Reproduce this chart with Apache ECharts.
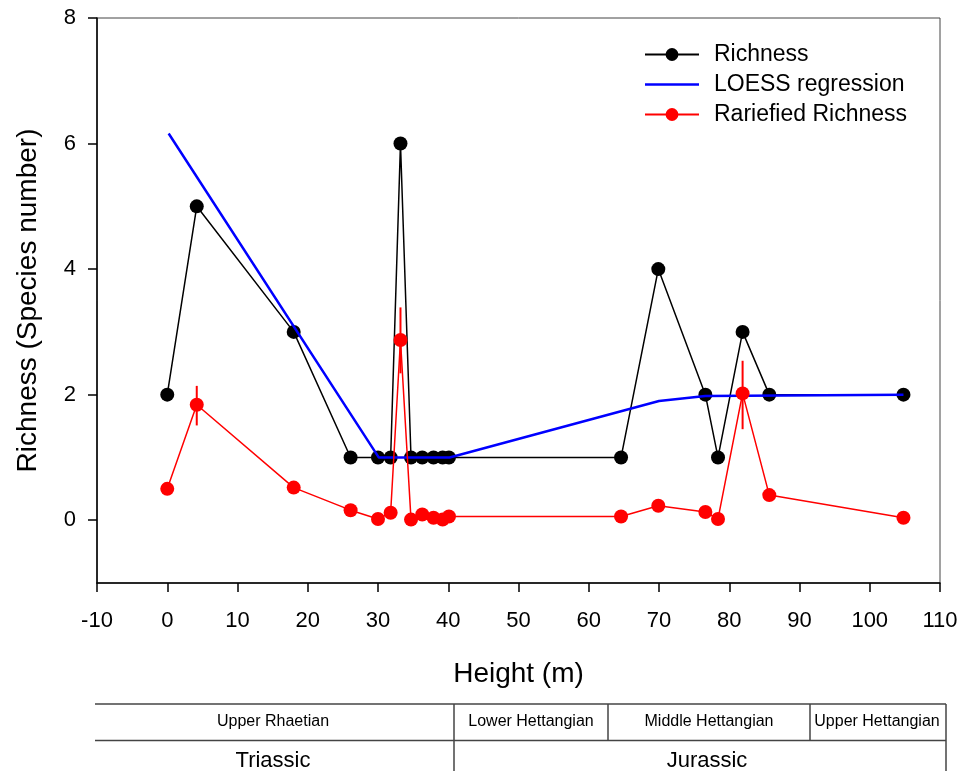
<!DOCTYPE html>
<html>
<head>
<meta charset="utf-8">
<script src="https://cdn.jsdelivr.net/npm/echarts@6/dist/echarts.min.js"></script>
<style>
html,body{margin:0;padding:0;background:#fff;}
#chart{width:967px;height:771px;}
</style>
</head>
<body>
<div id="chart"></div>
<script>
// ---- data ----
const heights = [0, 4.2, 18.0, 26.1, 30.0, 31.8, 33.2, 34.7, 36.3, 37.9, 39.2, 40.1, 64.6, 69.9, 76.6, 78.4, 81.9, 85.7, 104.8];
const richness = [2, 5, 3, 1, 1, 1, 6, 1, 1, 1, 1, 1, 1, 4, 2, 1, 3, 2, 2];
const rarefied = [0.50, 1.84, 0.52, 0.16, 0.02, 0.12, 2.87, 0.01, 0.09, 0.04, 0.01, 0.06, 0.06, 0.23, 0.13, 0.02, 2.02, 0.40, 0.04];
const loessX = [0.2, 30.1, 40.2, 70.0, 76.6, 104.8];
const loessY = [6.16, 1.0, 1.0, 1.90, 1.98, 2.0];
const errX = [4.2, 33.2, 81.9];
const errLow = [1.51, 2.34, 1.45];
const errHigh = [2.14, 3.39, 2.54];
const xTicks = [-10, 0, 10, 20, 30, 40, 50, 60, 70, 80, 90, 100, 110];
const yTicks = [0, 2, 4, 6, 8];
const stages = ['Upper Rhaetian', 'Lower Hettangian', 'Middle Hettangian', 'Upper Hettangian'];
const periods = ['Triassic', 'Jurassic'];

const FONT = 'Liberation Sans, Arial, sans-serif';
const chart = echarts.init(document.getElementById('chart'), null, {renderer: 'canvas'});

const zip = (a, b) => a.map((v, i) => [v, b[i]]);

// table layout (decoration)
const stageCenters = [273, 531, 709, 877];
const periodCenters = [273, 707];
const tableLines = [
  [95, 704, 946, 704], [95, 740.5, 946, 740.5],
  [454, 704, 454, 771], [608, 704, 608, 740.5], [810, 704, 810, 740.5], [946, 704, 946, 771]
];
const graphics = [];
tableLines.forEach(l => graphics.push({
  type: 'line', shape: {x1: l[0], y1: l[1], x2: l[2], y2: l[3]},
  style: {stroke: '#444', lineWidth: 1.5}, silent: true
}));
stages.forEach((s, i) => graphics.push({
  type: 'text', x: stageCenters[i], y: 722,
  style: {text: s, font: '16px ' + FONT, fill: '#000', align: 'center', verticalAlign: 'middle'}
}));
periods.forEach((s, i) => graphics.push({
  type: 'text', x: periodCenters[i], y: 761,
  style: {text: s, font: '22px ' + FONT, fill: '#000', align: 'center', verticalAlign: 'middle'}
}));

const option = {
  animation: false,
  backgroundColor: '#fff',
  textStyle: {fontFamily: FONT},
  grid: {left: 97, top: 18, width: 843, height: 565, show: true, borderColor: '#444', borderWidth: 1, containLabel: false},
  legend: {
    data: [
      {name: 'Richness'},
      {name: 'LOESS regression', icon: 'path://M0,0 L54,0 L54,2.5 L0,2.5 Z'},
      {name: 'Rariefied Richness'}
    ],
    orient: 'vertical', left: 644, top: 43, padding: 0,
    itemWidth: 54, itemHeight: 16, itemGap: 7,
    textStyle: {fontSize: 23, color: '#000', fontFamily: FONT, lineHeight: 23, padding: [0, 0, 0, 10]}
  },
  xAxis: {
    type: 'value', min: -10, max: 110, interval: 10,
    name: 'Height (m)', nameLocation: 'middle', nameGap: 77,
    nameTextStyle: {fontSize: 28, color: '#000', fontFamily: FONT},
    axisLine: {show: true, onZero: false, lineStyle: {color: '#000', width: 1.5}},
    axisTick: {show: true, inside: false, length: 9, lineStyle: {color: '#000', width: 1.5}, customValues: xTicks},
    axisLabel: {fontSize: 22, color: '#000', margin: 27, fontFamily: FONT, customValues: xTicks},
    splitLine: {show: false}
  },
  yAxis: {
    type: 'value', min: -1, max: 8,
    name: 'Richness (Species number)', nameLocation: 'middle', nameGap: 55, nameRotate: 90,
    nameTextStyle: {fontSize: 28, color: '#000', fontFamily: FONT},
    axisLine: {show: true, onZero: false, lineStyle: {color: '#000', width: 1.5}},
    axisTick: {show: true, inside: false, length: 9, lineStyle: {color: '#000', width: 1.5}, customValues: yTicks},
    axisLabel: {fontSize: 22, color: '#000', margin: 21, fontFamily: FONT, customValues: yTicks},
    splitLine: {show: false}
  },
  series: [
    {
      name: 'Richness', type: 'line', data: zip(heights, richness),
      symbol: 'circle', symbolSize: 14, z: 2,
      lineStyle: {color: '#000', width: 1.5}, itemStyle: {color: '#000'}
    },
    {
      name: 'LOESS regression', type: 'line', data: zip(loessX, loessY),
      symbol: 'none', showSymbol: false, z: 3,
      lineStyle: {color: '#0000ff', width: 2.5}, itemStyle: {color: '#0000ff'}
    },
    {
      name: 'Rariefied Richness', type: 'line', data: zip(heights, rarefied),
      symbol: 'circle', symbolSize: 14, z: 4,
      lineStyle: {color: '#ff0000', width: 1.5}, itemStyle: {color: '#ff0000'}
    },
    {
      name: 'err', type: 'custom', z: 5,
      data: errX.map((x, i) => [x, errLow[i], errHigh[i]]),
      renderItem: function (params, api) {
        const p1 = api.coord([api.value(0), api.value(1)]);
        const p2 = api.coord([api.value(0), api.value(2)]);
        return {type: 'line', shape: {x1: p1[0], y1: p1[1], x2: p2[0], y2: p2[1]},
          style: {stroke: '#ff0000', lineWidth: 2}};
      }
    }
  ],
  graphic: graphics
};
chart.setOption(option);
</script>
</body>
</html>
